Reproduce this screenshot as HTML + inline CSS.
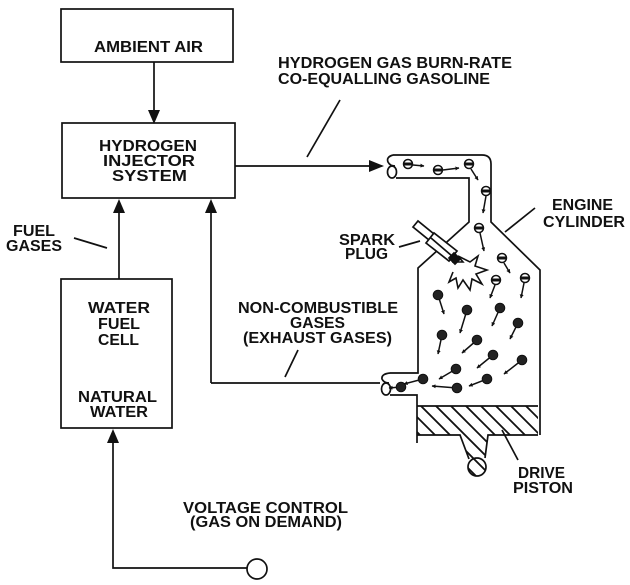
<!DOCTYPE html>
<html><head><meta charset="utf-8"><style>
html,body{margin:0;padding:0;background:#fff;}
svg{display:block;}
text{font-family:"Liberation Sans",Arial,sans-serif;font-weight:bold;font-size:15.5px;fill:#111;}
</style></head><body>
<svg width="630" height="585" viewBox="0 0 630 585" xmlns="http://www.w3.org/2000/svg">
<defs>
<clipPath id="pc"><path d="M417,406 L538,406 L538,435 L488,435 L485,460 L469,460 L460,435 L417,435 Z"/><circle cx="477" cy="467" r="9"/></clipPath>
<marker id="ah" viewBox="0 0 10 10" refX="9" refY="5" markerWidth="4" markerHeight="4" orient="auto" markerUnits="userSpaceOnUse">
<path d="M0,0 L10,5 L0,10 Z" fill="#111"/>
</marker>
</defs>
<g stroke="#111" stroke-width="1.7" fill="none">
<!-- boxes -->
<rect x="61" y="9" width="172" height="53"/>
<rect x="62" y="123" width="173" height="75"/>
<rect x="61" y="279" width="111" height="149"/>
<!-- connectors -->
<line x1="154" y1="62" x2="154" y2="112"/>
<line x1="119" y1="279" x2="119" y2="210"/>
<line x1="211" y1="383" x2="211" y2="210"/>
<polyline points="211,383 380,383"/>
<line x1="235" y1="166" x2="372" y2="166"/>
<polyline points="113,440 113,568 247,568"/>
<circle cx="257" cy="569" r="10"/>
<!-- label leader lines -->
<line x1="340" y1="100" x2="307" y2="157"/>
<line x1="74" y1="238" x2="107" y2="248"/>
<line x1="298" y1="350" x2="285" y2="377"/>
<line x1="399" y1="247" x2="420" y2="241"/>
<line x1="535" y1="208" x2="505" y2="232"/>
<line x1="518" y1="460" x2="502" y2="430"/>
<!-- intake pipe -->
<path d="M393,155 L482,155 Q491,155 491,164 L491,222 L540,270 L540,435"/>
<path d="M396,178 L469,178 L469,222 L418,268 L418,373 L390,373"/>
<path d="M393,155 Q386,157 388,162 Q390,166 395,166"/>
<ellipse cx="392" cy="172" rx="4.5" ry="6"/>
<!-- exhaust pipe -->
<path d="M390,373 Q381,374 382,379 Q384,383 389,383"/>
<ellipse cx="386" cy="389" rx="4.5" ry="6"/>
<path d="M390,395 L417,395 L417,443"/>
<!-- piston -->
<line x1="417" y1="406" x2="538" y2="406"/>
<path d="M417,435 L460,435 L469,459"/>
<path d="M538,435 L488,435 L485,458"/>
<circle cx="477" cy="467" r="9"/>
</g>
<!-- hatch -->
<g clip-path="url(#pc)" stroke="#111" stroke-width="1.8">
<line x1="340" y1="400" x2="420" y2="480"/>
<line x1="355" y1="400" x2="435" y2="480"/>
<line x1="370" y1="400" x2="450" y2="480"/>
<line x1="385" y1="400" x2="465" y2="480"/>
<line x1="400" y1="400" x2="480" y2="480"/>
<line x1="415" y1="400" x2="495" y2="480"/>
<line x1="430" y1="400" x2="510" y2="480"/>
<line x1="445" y1="400" x2="525" y2="480"/>
<line x1="460" y1="400" x2="540" y2="480"/>
<line x1="475" y1="400" x2="555" y2="480"/>
<line x1="490" y1="400" x2="570" y2="480"/>
<line x1="505" y1="400" x2="585" y2="480"/>
<line x1="520" y1="400" x2="600" y2="480"/>
</g>
<!-- arrowheads -->
<g fill="#111">
<polygon points="148,110 160,110 154,124"/>
<polygon points="113,213 125,213 119,199"/>
<polygon points="205,213 217,213 211,199"/>
<polygon points="369,160 369,172 384,166"/>
<polygon points="107,443 119,443 113,429"/>
</g>
<!-- spark plug -->
<g stroke="#111" stroke-width="1.7" fill="#fff">
<polygon points="413,227 418,221 434,234 429,240"/>
<polygon points="426,243 434,233 457,251 449,261"/>
<line x1="431" y1="238" x2="452" y2="256"/>
<polygon points="449,258 454,253 460,259 455,264" fill="#111"/>
</g>
<polyline points="452,262 463,262 458,256 470,262 478,256 475,266 487,270 476,274 482,284 472,279 470,290 463,280 458,288 456,278 449,282 453,272" fill="none" stroke="#111" stroke-width="1.6"/>
<!-- intake particles -->
<g stroke="#111" stroke-width="1.5" fill="none" marker-end="url(#ah)">
<line x1="413" y1="165" x2="424" y2="166"/>
<line x1="443" y1="170" x2="459" y2="168"/>
<line x1="471" y1="169" x2="478" y2="180"/>
<line x1="486" y1="196" x2="483" y2="213"/>
<line x1="480" y1="233" x2="484" y2="251"/>
<line x1="504" y1="263" x2="510" y2="273"/>
<line x1="495" y1="285" x2="490" y2="298"/>
<line x1="524" y1="283" x2="521" y2="298"/>
</g>
<g stroke="#111" stroke-width="1.5">
<g fill="#fff">
<circle cx="408" cy="164" r="4.5"/><circle cx="438" cy="170" r="4.5"/><circle cx="469" cy="164" r="4.5"/>
<circle cx="486" cy="191" r="4.5"/><circle cx="479" cy="228" r="4.5"/><circle cx="502" cy="258" r="4.5"/>
<circle cx="496" cy="280" r="4.5"/><circle cx="525" cy="278" r="4.5"/>
</g>
<line x1="404" y1="164" x2="412" y2="164" stroke-width="3"/>
<line x1="434" y1="170" x2="442" y2="170" stroke-width="3"/>
<line x1="465" y1="164" x2="473" y2="164" stroke-width="3"/>
<line x1="482" y1="191" x2="490" y2="191" stroke-width="3"/>
<line x1="475" y1="228" x2="483" y2="228" stroke-width="3"/>
<line x1="498" y1="258" x2="506" y2="258" stroke-width="3"/>
<line x1="492" y1="280" x2="500" y2="280" stroke-width="3"/>
<line x1="521" y1="278" x2="529" y2="278" stroke-width="3"/>
</g>
<!-- chamber particles -->
<g stroke="#111" stroke-width="1.5" fill="none" marker-end="url(#ah)">
<line x1="438" y1="295" x2="444" y2="314"/>
<line x1="467" y1="310" x2="460" y2="333"/>
<line x1="500" y1="308" x2="492" y2="326"/>
<line x1="518" y1="323" x2="510" y2="339"/>
<line x1="442" y1="335" x2="438" y2="354"/>
<line x1="477" y1="340" x2="462" y2="353"/>
<line x1="493" y1="355" x2="477" y2="368"/>
<line x1="522" y1="360" x2="504" y2="374"/>
<line x1="456" y1="369" x2="439" y2="379"/>
<line x1="423" y1="379" x2="404" y2="384"/>
<line x1="401" y1="387" x2="389" y2="388"/>
<line x1="457" y1="388" x2="432" y2="386"/>
<line x1="487" y1="379" x2="469" y2="386"/>
</g>
<g fill="#222" stroke="#111" stroke-width="1">
<circle cx="438" cy="295" r="4.8"/><circle cx="467" cy="310" r="4.8"/><circle cx="500" cy="308" r="4.8"/>
<circle cx="518" cy="323" r="4.8"/><circle cx="442" cy="335" r="4.8"/><circle cx="477" cy="340" r="4.8"/>
<circle cx="493" cy="355" r="4.8"/><circle cx="522" cy="360" r="4.8"/><circle cx="456" cy="369" r="4.8"/>
<circle cx="423" cy="379" r="4.8"/><circle cx="401" cy="387" r="4.8"/><circle cx="457" cy="388" r="4.8"/>
<circle cx="487" cy="379" r="4.8"/>
</g>
<!-- texts -->
<text x="94" y="52" textLength="109" lengthAdjust="spacingAndGlyphs">AMBIENT AIR</text>
<text x="99" y="151" textLength="98" lengthAdjust="spacingAndGlyphs">HYDROGEN</text>
<text x="103" y="166" textLength="92" lengthAdjust="spacingAndGlyphs">INJECTOR</text>
<text x="112" y="181" textLength="75" lengthAdjust="spacingAndGlyphs">SYSTEM</text>
<text x="278" y="68" textLength="234" lengthAdjust="spacingAndGlyphs">HYDROGEN GAS BURN-RATE</text>
<text x="278" y="84" textLength="212" lengthAdjust="spacingAndGlyphs">CO-EQUALLING GASOLINE</text>
<text x="13" y="236" textLength="42" lengthAdjust="spacingAndGlyphs">FUEL</text>
<text x="6" y="251" textLength="56" lengthAdjust="spacingAndGlyphs">GASES</text>
<text x="88" y="313" textLength="62" lengthAdjust="spacingAndGlyphs">WATER</text>
<text x="98" y="329" textLength="42" lengthAdjust="spacingAndGlyphs">FUEL</text>
<text x="98" y="345" textLength="41" lengthAdjust="spacingAndGlyphs">CELL</text>
<text x="78" y="402" textLength="79" lengthAdjust="spacingAndGlyphs">NATURAL</text>
<text x="90" y="417" textLength="58" lengthAdjust="spacingAndGlyphs">WATER</text>
<text x="238" y="313" textLength="160" lengthAdjust="spacingAndGlyphs">NON-COMBUSTIBLE</text>
<text x="290" y="328" textLength="55" lengthAdjust="spacingAndGlyphs">GASES</text>
<text x="243" y="343" textLength="149" lengthAdjust="spacingAndGlyphs">(EXHAUST GASES)</text>
<text x="339" y="245" textLength="56" lengthAdjust="spacingAndGlyphs">SPARK</text>
<text x="345" y="259" textLength="43" lengthAdjust="spacingAndGlyphs">PLUG</text>
<text x="552" y="210" textLength="61" lengthAdjust="spacingAndGlyphs">ENGINE</text>
<text x="543" y="227" textLength="82" lengthAdjust="spacingAndGlyphs">CYLINDER</text>
<text x="518" y="478" textLength="47" lengthAdjust="spacingAndGlyphs">DRIVE</text>
<text x="513" y="493" textLength="60" lengthAdjust="spacingAndGlyphs">PISTON</text>
<text x="183" y="513" textLength="165" lengthAdjust="spacingAndGlyphs">VOLTAGE CONTROL</text>
<text x="190" y="527" textLength="152" lengthAdjust="spacingAndGlyphs">(GAS ON DEMAND)</text>
</svg>
</body></html>
